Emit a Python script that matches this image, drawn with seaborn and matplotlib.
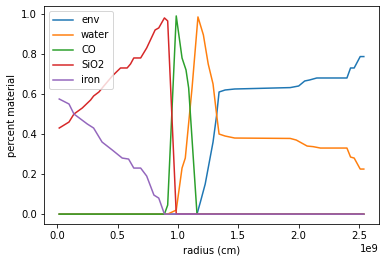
import matplotlib
matplotlib.use("Agg")
import matplotlib.pyplot as plt
import seaborn as sns

# radius in units of 1e9 cm, fractions
env_x = [0.015, 1.157, 1.185, 1.225, 1.29, 1.32, 1.34, 1.39, 1.47, 1.93, 2.0, 2.05, 2.09, 2.15, 2.40, 2.43, 2.46, 2.51, 2.54]
env_y = [0, 0, 0.06, 0.15, 0.36, 0.495, 0.61, 0.62, 0.625, 0.632, 0.64, 0.665, 0.67, 0.68, 0.68, 0.73, 0.73, 0.787, 0.787]

water_x = [0.015, 0.914, 0.985, 1.033, 1.06, 1.116, 1.165, 1.21, 1.25, 1.29, 1.32, 1.34, 1.39, 1.47, 1.93, 1.98, 2.07, 2.12, 2.18, 2.40, 2.43, 2.46, 2.51, 2.54]
water_y = [0, 0, 0.02, 0.23, 0.28, 0.63, 0.985, 0.895, 0.75, 0.65, 0.495, 0.40, 0.39, 0.38, 0.378, 0.37, 0.34, 0.337, 0.33, 0.33, 0.285, 0.28, 0.225, 0.225]

co_x = [0.015, 0.887, 0.914, 0.985, 1.033, 1.066, 1.088, 1.157, 2.54]
co_y = [0, 0, 0.045, 0.99, 0.78, 0.72, 0.63, 0.0, 0.0]

sio2_x = [0.015, 0.096, 0.137, 0.206, 0.275, 0.30, 0.344, 0.385, 0.455, 0.523, 0.578, 0.606, 0.633, 0.69, 0.74, 0.81, 0.84, 0.887, 0.914, 0.985, 2.54]
sio2_y = [0.43, 0.46, 0.50, 0.53, 0.57, 0.59, 0.61, 0.64, 0.69, 0.73, 0.73, 0.75, 0.78, 0.78, 0.83, 0.92, 0.93, 0.98, 0.965, 0.0, 0.0]

iron_x = [0.015, 0.096, 0.137, 0.248, 0.30, 0.37, 0.455, 0.537, 0.59, 0.633, 0.69, 0.74, 0.80, 0.84, 0.887, 2.54]
iron_y = [0.575, 0.55, 0.50, 0.45, 0.43, 0.36, 0.32, 0.28, 0.275, 0.23, 0.23, 0.19, 0.095, 0.08, 0.0, 0.0]

series = [
    ('env', env_x, env_y),
    ('water', water_x, water_y),
    ('CO', co_x, co_y),
    ('SiO2', sio2_x, sio2_y),
    ('iron', iron_x, iron_y),
]
colors = sns.color_palette('tab10', len(series))

fig, ax = plt.subplots(figsize=(386 / 72, 262 / 72), dpi=72)
for (name, xs, ys), c in zip(series, colors):
    sns.lineplot(x=[v * 1e9 for v in xs], y=ys, ax=ax, label=name, color=c,
                 linewidth=1.5, sort=False)

ax.set_xlabel('radius (cm)')
ax.set_ylabel('percent material')
ax.legend(loc='upper left')
fig.subplots_adjust(left=0.114, right=0.982, bottom=0.145, top=0.977)
fig.savefig('out.png', dpi=72)
